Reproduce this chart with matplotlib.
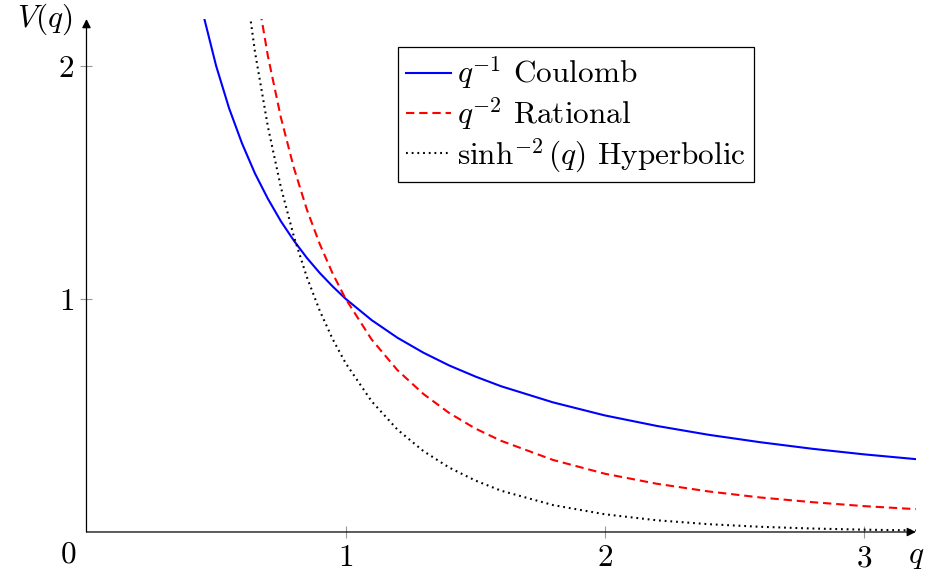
import matplotlib
matplotlib.use("Agg")
import matplotlib.pyplot as plt

plt.rcParams['font.family'] = 'serif'
plt.rcParams['font.serif'] = ['cmr10', 'DejaVu Serif']
plt.rcParams['mathtext.fontset'] = 'cm'
plt.rcParams['axes.formatter.use_mathtext'] = True
plt.rcParams['lines.scale_dashes'] = False

# sample points of q and the values
q_coulomb = [0.45, 0.5, 0.55, 0.6, 0.65, 0.7, 0.75, 0.8, 0.85, 0.9, 0.95, 1.0,
             1.1, 1.2, 1.3, 1.4, 1.5, 1.6, 1.8, 2.0, 2.2, 2.4, 2.6, 2.8, 3.0, 3.2]
v_coulomb = [2.222, 2.0, 1.818, 1.667, 1.538, 1.429, 1.333, 1.25, 1.176, 1.111, 1.053, 1.0,
             0.909, 0.833, 0.769, 0.714, 0.667, 0.625, 0.556, 0.5, 0.455, 0.417, 0.385, 0.357, 0.333, 0.3125]

q_rational = [0.65, 0.7, 0.75, 0.8, 0.85, 0.9, 0.95, 1.0, 1.1, 1.2, 1.3, 1.4, 1.5, 1.6,
              1.8, 2.0, 2.2, 2.4, 2.6, 2.8, 3.0, 3.2]
v_rational = [2.367, 2.041, 1.778, 1.5625, 1.384, 1.235, 1.108, 1.0, 0.826, 0.694, 0.592, 0.510,
              0.444, 0.391, 0.309, 0.25, 0.207, 0.174, 0.148, 0.128, 0.111, 0.098]

q_hyper = [0.6, 0.65, 0.7, 0.75, 0.8, 0.85, 0.9, 0.95, 1.0, 1.1, 1.2, 1.3, 1.4, 1.5, 1.6,
           1.8, 2.0, 2.2, 2.4, 2.6, 2.8, 3.0, 3.2]
v_hyper = [2.467, 2.060, 1.738, 1.479, 1.268, 1.094, 0.949, 0.827, 0.724, 0.561, 0.439, 0.347,
           0.276, 0.221, 0.177, 0.1155, 0.0760, 0.0503, 0.0335, 0.0223, 0.0149, 0.00996, 0.00667]

labels = [r'$q^{-1}$ Coulomb', r'$q^{-2}$ Rational', r'$\sinh^{-2}(q)$ Hyperbolic']
x_ticks = [1, 2, 3]
y_ticks = [1, 2]

fs = 22.5

fig = plt.figure(figsize=(9.26, 5.77), dpi=100)
ax = fig.add_axes([0.0934, 0.078, 0.8956, 0.889])

ax.plot(q_coulomb, v_coulomb, color='blue', lw=1.5, label=labels[0])
ax.plot(q_rational, v_rational, color='red', lw=1.5, linestyle=(0, (6, 3.5)), label=labels[1])
ax.plot(q_hyper, v_hyper, color='black', lw=1.5, linestyle=(0, (1.3, 2.8)), label=labels[2])

ax.set_xlim(0, 3.2)
ax.set_ylim(0, 2.2)

for s in ['top', 'right', 'left', 'bottom']:
    ax.spines[s].set_visible(False)

# axis lines with arrow heads
arrow = dict(arrowstyle='-|>', lw=0.9, color='black', mutation_scale=13, shrinkA=0, shrinkB=0)
ax.annotate('', xy=(3.2, 0), xytext=(0, 0), arrowprops=arrow, annotation_clip=False)
ax.annotate('', xy=(0, 2.2), xytext=(0, 0), arrowprops=arrow, annotation_clip=False)

ax.set_xticks(x_ticks)
ax.set_xticklabels(['$%d$' % t for t in x_ticks])
ax.set_yticks(y_ticks)
ax.set_yticklabels(['$%d$' % t for t in y_ticks])
ax.tick_params(direction='inout', length=8, width=0.8, color='#999999',
               labelsize=fs, pad=5)

ax.annotate('$0$', xy=(0, 0), xytext=(-13, -16.5), textcoords='offset points',
            ha='center', va='center', fontsize=fs, annotation_clip=False)
ax.annotate('$q$', xy=(3.2, 0), xytext=(0, -8), textcoords='offset points',
            ha='center', va='top', fontsize=fs, annotation_clip=False)
ax.annotate('$V(q)$', xy=(0, 2.2), xytext=(-10, 0), textcoords='offset points',
            ha='right', va='center', fontsize=fs, annotation_clip=False)

leg = ax.legend(loc='upper left', bbox_to_anchor=(0.3756, 0.945), fontsize=fs,
                frameon=True, fancybox=False, edgecolor='black', framealpha=1,
                borderpad=0.25, handlelength=1.45, handletextpad=0.2,
                labelspacing=0.1, borderaxespad=0)
leg.get_frame().set_linewidth(0.9)

fig.savefig('out.png', dpi=100)
